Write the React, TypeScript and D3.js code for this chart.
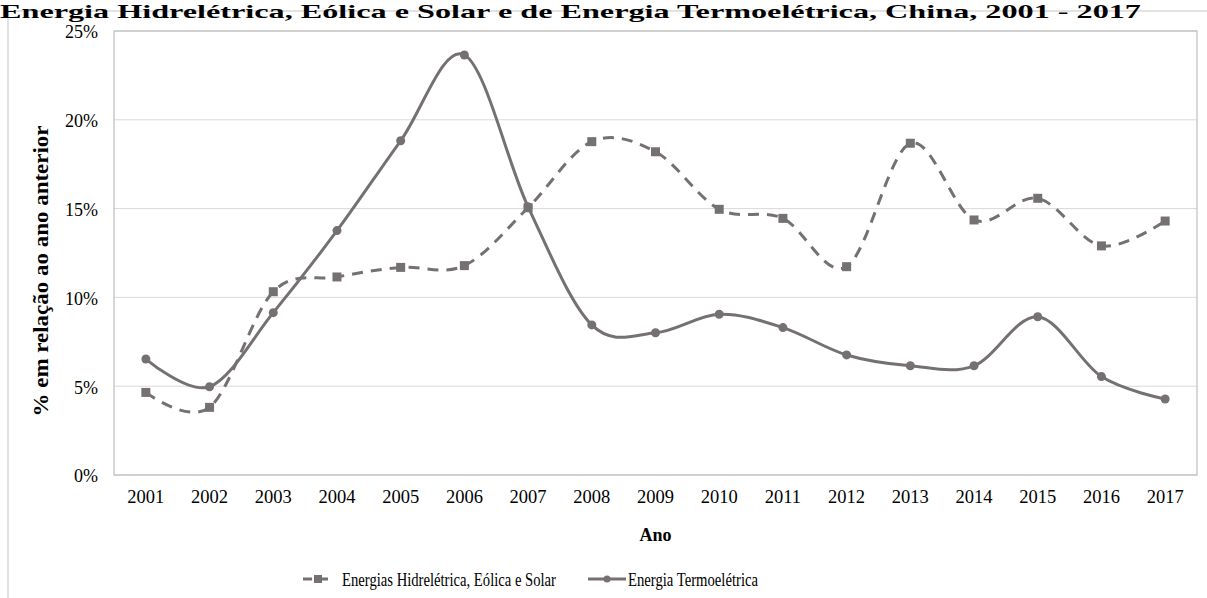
import React from "react";
import * as d3 from "d3";

const years = ["2001","2002","2003","2004","2005","2006","2007","2008","2009","2010","2011","2012","2013","2014","2015","2016","2017"];
const hidro = [4.65, 3.81, 10.32, 11.15, 11.69, 11.79, 15.05, 18.77, 18.2, 14.96, 14.45, 11.73, 18.68, 14.36, 15.58, 12.9, 14.3];
const termo = [6.53, 4.97, 9.14, 13.76, 18.82, 23.65, 15.1, 8.45, 8.01, 9.05, 8.3, 6.76, 6.15, 6.15, 8.91, 5.54, 4.28];
const yTicks = [0, 5, 10, 15, 20, 25];
const seriesNames = ["Energias Hidrelétrica, Eólica e Solar", "Energia Termoelétrica"];
const title = "Energia Hidrelétrica, Eólica e Solar e de Energia Termoelétrica, China, 2001 - 2017";

export default function App() {
  const W = 1207, H = 598;
  const left = 114, right = 1197, top = 31, bottom = 475;
  const x = d3.scaleBand().domain(years).range([left, right]);
  const y = d3.scaleLinear().domain([0, 25]).range([bottom, top]);
  const cx = (yr: string) => (x(yr) as number) + x.bandwidth() / 2;
  const color = "#767171";
  const line = d3.line<number>()
    .x((_, i) => cx(years[i]))
    .y((d) => y(d))
    .curve(d3.curveCardinal.tension(0));
  const font = "'Liberation Serif', 'Times New Roman', serif";
  return (
    <svg width={W} height={H} style={{ position: "absolute", left: 0, top: 0, background: "#fff" }}>
      <rect x={8} y={11} width={W + 10} height={H} fill="none" stroke="#d9d9d9" strokeWidth={1.5} />
      <text x={0} y={17.5} fontFamily={font} fontWeight="bold" fontSize={19} textLength={1141} lengthAdjust="spacingAndGlyphs">{title}</text>
      {yTicks.map((t) => (
        <g key={t}>
          <line x1={left} x2={right} y1={y(t)} y2={y(t)} stroke="#d9d9d9" strokeWidth={1} />
          <text x={98} y={y(t) + 1} dy="0.35em" textAnchor="end" fontFamily={font} fontSize={18} fill="#000">{t}%</text>
        </g>
      ))}
      <rect x={left} y={top} width={right - left} height={bottom - top} fill="none" stroke="#bfbfbf" strokeWidth={1.2} />
      {years.map((yr) => (
        <text key={yr} x={cx(yr)} y={503} textAnchor="middle" fontFamily={font} fontSize={18.5} fill="#000">{yr}</text>
      ))}
      <text x={(left + right) / 2} y={541} textAnchor="middle" fontFamily={font} fontWeight="bold" fontSize={18}>Ano</text>
      <text transform={`translate(48, 271) rotate(-90)`} textAnchor="middle" fontFamily={font} fontWeight="bold" fontSize={20} textLength={291} lengthAdjust="spacingAndGlyphs">% em relação ao ano anterior</text>

      <path d={line(hidro) || ""} fill="none" stroke={color} strokeWidth={3} strokeDasharray="11,8" />
      <path d={line(termo) || ""} fill="none" stroke={color} strokeWidth={3} />
      {hidro.map((v, i) => (
        <rect key={"h" + i} x={cx(years[i]) - 4.5} y={y(v) - 4.5} width={9} height={9} fill={color} />
      ))}
      {termo.map((v, i) => (
        <circle key={"t" + i} cx={cx(years[i])} cy={y(v)} r={4.5} fill={color} />
      ))}

      <g>
        <line x1={303} x2={333} y1={579} y2={579} stroke={color} strokeWidth={3} strokeDasharray="9,7" />
        <rect x={314} y={575} width={8} height={8} fill={color} />
        <text x={342} y={585.5} fontFamily={font} fontSize={19} textLength={214} lengthAdjust="spacingAndGlyphs">{seriesNames[0]}</text>
        <line x1={588} x2={626} y1={579} y2={579} stroke={color} strokeWidth={3} />
        <circle cx={607} cy={579} r={3.5} fill={color} />
        <text x={628} y={585.5} fontFamily={font} fontSize={19} textLength={130} lengthAdjust="spacingAndGlyphs">{seriesNames[1]}</text>
      </g>
    </svg>
  );
}
